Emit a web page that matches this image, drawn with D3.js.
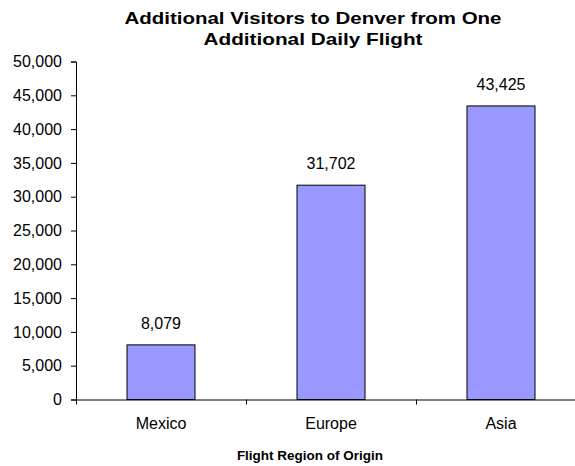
<!DOCTYPE html>
<html>
<head>
<meta charset="utf-8">
<script src="https://cdn.jsdelivr.net/npm/d3@7"></script>
<style>
  html, body { margin: 0; padding: 0; background: #fff; }
  svg { display: block; font-family: Arial, "Liberation Sans", sans-serif; }
</style>
</head>
<body>
<svg id="chart" width="575" height="466"></svg>
<script>
// Origin regions and the extra visitors one added daily flight brings
const categories = ["Mexico", "Europe", "Asia"];
const visitors = [8079, 31702, 43425];
const yTicks = [0, 5000, 10000, 15000, 20000, 25000, 30000, 35000, 40000, 45000, 50000];
const titleLines = ["Additional Visitors to Denver from One", "Additional Daily Flight"];
const xTitle = "Flight Region of Origin";

const svg = d3.select("#chart");
const plotLeft = 76, plotRight = 586, plotTop = 61.5, plotBottom = 399.5;

const x = d3.scaleBand().domain(categories).range([plotLeft, plotRight]).paddingInner(0.6).paddingOuter(0.3);
const xEdge = d3.scaleLinear().domain([0, categories.length]).range([plotLeft, plotRight]);
const y = d3.scaleLinear().domain([0, 50000]).range([plotBottom, plotTop]);

// Title
const titleWidths = [377, 219];
svg.append("g").selectAll("text").data(titleLines).join("text")
  .attr("x", 313).attr("y", (d, i) => 24 + i * 21)
  .attr("text-anchor", "middle")
  .attr("font-size", 16.5).attr("font-weight", "bold").attr("fill", "#000")
  .attr("textLength", (d, i) => titleWidths[i])
  .attr("lengthAdjust", "spacingAndGlyphs")
  .text(d => d);

// Bars
svg.append("g").selectAll("rect").data(visitors).join("rect")
  .attr("x", (d, i) => x(categories[i]))
  .attr("y", d => y(d))
  .attr("width", x.bandwidth())
  .attr("height", d => y(0) - y(d))
  .attr("fill", "#9999FF")
  .attr("stroke", "#000").attr("stroke-width", 1);

// Value labels above bars
svg.append("g").selectAll("text").data(visitors).join("text")
  .attr("x", (d, i) => x(categories[i]) + x.bandwidth() / 2)
  .attr("y", d => y(d) - 16)
  .attr("text-anchor", "middle")
  .attr("font-size", 16).attr("fill", "#000")
  .text(d => d3.format(",")(d));

// Y axis
const yAxis = svg.append("g").attr("transform", `translate(${plotLeft},0)`)
  .call(d3.axisLeft(y).tickValues(yTicks).tickFormat(d3.format(",")).tickSize(5).tickPadding(9));
yAxis.selectAll("text").attr("font-size", 16).attr("fill", "#000").attr("font-family", null);
yAxis.select(".domain").attr("stroke", "#000");
yAxis.selectAll(".tick line").attr("stroke", "#000");

// X axis: boundary ticks between categories
const xTicks = svg.append("g").attr("transform", `translate(0,${plotBottom})`)
  .call(d3.axisBottom(xEdge).tickValues(d3.range(categories.length + 1)).tickFormat("").tickSize(5).tickSizeOuter(0));
xTicks.select(".domain").attr("stroke", "#000");
xTicks.selectAll(".tick line").attr("stroke", "#000");

// X axis: category labels centred under each bar
const xLabels = svg.append("g").attr("transform", `translate(0,${plotBottom})`)
  .call(d3.axisBottom(x).tickSize(0).tickPadding(18));
xLabels.select(".domain").remove();
xLabels.selectAll("text").attr("font-size", 16).attr("fill", "#000").attr("font-family", null);

// X axis title
svg.append("text")
  .attr("x", 310).attr("y", 460)
  .attr("text-anchor", "middle")
  .attr("font-size", 13.5).attr("font-weight", "bold").attr("fill", "#000")
  .text(xTitle);
</script>
</body>
</html>
